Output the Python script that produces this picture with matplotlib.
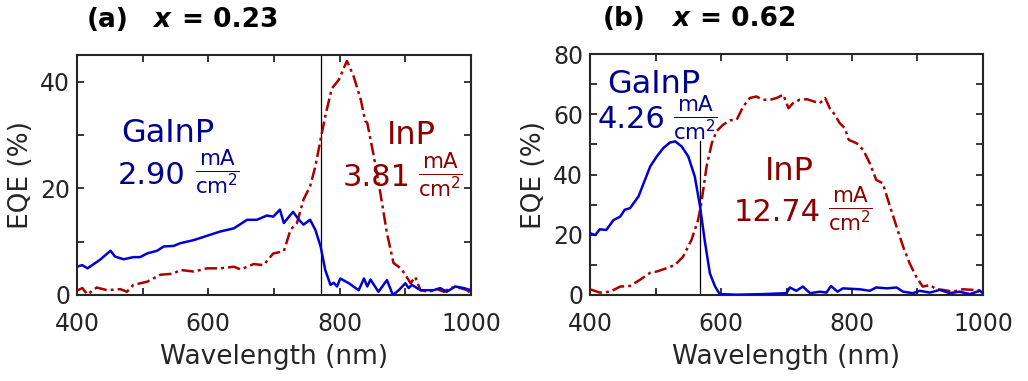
import numpy as np
import matplotlib.pyplot as plt

plt.rcParams['font.family'] = ['DejaVu Sans']
plt.rcParams['mathtext.fontset'] = 'dejavusans'

# ---------------------------------------------------------
# EQE spectra, panel (a): x = 0.23
# ---------------------------------------------------------
wl_gainp_a = [400, 408, 416, 435, 451, 458, 471, 486, 496, 507, 522, 532, 547, 557,
              578, 598, 618, 639, 659, 674, 689, 699, 709, 715, 729, 738, 745, 755,
              763, 771, 778, 786, 791, 796, 801, 814, 829, 837, 842, 847, 859, 872,
              881, 890, 900, 905, 910, 923, 943, 953, 963, 976, 989, 1000]
eqe_gainp_a = [5.3, 5.6, 5.0, 6.6, 8.3, 7.2, 6.7, 7.1, 7.1, 7.8, 8.3, 9.1, 9.2, 9.7,
               10.3, 11.1, 11.9, 12.5, 14.1, 14.1, 14.9, 14.7, 16.0, 13.5, 15.6, 14.1, 13.2, 14.1,
               12.2, 9.1, 4.7, 1.9, 2.3, 1.6, 3.1, 2.2, 0.9, 3.1, 1.6, 2.9, 0.6, 2.8,
               0.0, 0.9, 2.2, 1.3, 1.9, 0.9, 0.9, 1.3, 0.6, 1.6, 1.3, 0.9]

wl_inp_a = [400, 408, 416, 430, 446, 466, 476, 486, 507, 527, 547, 557, 578, 598,
            618, 639, 649, 669, 684, 699, 715, 725, 735, 745, 755, 763, 771, 778,
            788, 799, 811, 821, 832, 839, 842, 852, 862, 872, 882, 893, 900, 908,
            915, 923, 936, 948, 959, 969, 984, 994, 1000]
eqe_inp_a = [0.8, 1.3, 0.1, 1.4, 0.9, 1.1, 0.6, 1.9, 2.5, 3.8, 4.0, 4.7, 4.4, 5.0,
             5.0, 5.3, 4.8, 5.8, 5.6, 7.8, 8.2, 12.2, 13.5, 17.9, 20.4, 24.1, 29.2, 33.5,
             38.7, 40.4, 43.9, 41.1, 36.7, 32.6, 32.3, 26.0, 19.1, 11.6, 6.0, 5.0, 3.8, 2.2,
             3.4, 0.9, 0.6, 1.1, 0.6, 1.4, 1.3, 0.9, 0.3]

# ---------------------------------------------------------
# EQE spectra, panel (b): x = 0.62
# ---------------------------------------------------------
wl_gainp_b = [400, 408, 415, 425, 436, 446, 453, 461, 474, 481, 492, 502, 512, 522,
              530, 540, 550, 560, 568, 575, 583, 591, 598, 624, 664, 700, 705, 715,
              725, 736, 751, 761, 768, 778, 786, 812, 827, 837, 853, 868, 878, 893,
              903, 919, 934, 949, 964, 980, 995, 1000]
eqe_gainp_b = [20.5, 19.9, 21.8, 21.6, 24.9, 26.0, 28.3, 28.8, 32.7, 36.6, 42.7, 46.0, 48.8, 50.6,
               51.0, 49.3, 46.0, 39.3, 29.4, 18.3, 7.2, 2.8, 0.3, 0.1, 0.3, 0.6, 2.5, 1.4,
               2.8, 0.6, 1.1, 0.8, 3.0, 1.1, 2.2, 1.9, 1.4, 2.5, 2.2, 2.5, 1.1, 0.6,
               1.4, 0.8, 1.7, 0.6, 1.1, 0.3, 1.4, 0.6]

wl_inp_b = [400, 415, 431, 446, 461, 476, 492, 502, 517, 530, 542, 555, 565, 570,
            578, 586, 593, 603, 614, 624, 634, 644, 654, 664, 675, 685, 695, 703,
            710, 720, 731, 741, 751, 759, 766, 774, 781, 789, 795, 807, 817, 827,
            837, 847, 858, 868, 878, 888, 898, 908, 919, 929, 939, 954, 969, 985, 1000]
eqe_inp_b = [1.9, 0.8, 1.1, 2.8, 3.0, 5.0, 7.4, 7.8, 8.9, 10.0, 12.7, 18.3, 24.9, 30.5,
             42.7, 50.4, 54.3, 56.5, 58.0, 58.2, 62.6, 65.4, 65.9, 64.8, 64.8, 65.4, 66.5, 62.0,
             63.7, 64.8, 65.0, 64.3, 63.7, 65.4, 62.0, 59.8, 57.1, 55.4, 51.5, 50.4, 48.2, 43.8,
             38.2, 37.1, 29.4, 22.7, 16.1, 10.5, 6.1, 2.8, 3.3, 1.9, 1.7, 1.1, 1.9, 1.7, 1.4]

# integrated current densities (mA/cm2) and subcell cutoff wavelengths
jsc_gainp = ["2.90", "4.26"]
jsc_inp = ["3.81", "12.74"]
cutoff_wl = [772, 568]
cutoff_top = [45, 51]
x_values = ["0.23", "0.62"]
panel_tags = ["(a)", "(b)"]
ylims = [45, 80]

BLUE_LINE = "#0000D2"
BLUE_TEXT = "#000090"
RED_LINE = "#AA0000"
RED_TEXT = "#8B0000"
GREY = "#262626"

fig = plt.figure(figsize=(10.28, 3.81), dpi=100)
ax_a = fig.add_axes([77 / 1028, 86 / 381, 394 / 1028, 240 / 381])
ax_b = fig.add_axes([590 / 1028, 86 / 381, 393 / 1028, 241 / 381])
axes = [ax_a, ax_b]

spectra = [
    (wl_gainp_a, eqe_gainp_a, wl_inp_a, eqe_inp_a),
    (wl_gainp_b, eqe_gainp_b, wl_inp_b, eqe_inp_b),
]

# label positions (data coords): GaInP name, GaInP value, InP name, InP value
label_pos = [
    [(468, 28.6), (462, 20.8), (872, 28.4), (804, 20.4)],
    [(427, 67.0), (412, 55.4), (667, 38.2), (620, 24.4)],
]
frac_pos = [[(579, 22.9), (919, 22.4)], [(527, 58.7), (764, 28.3)]]

for i, ax in enumerate(axes):
    wg, eg, wi, ei = spectra[i]
    ax.plot(wi, ei, color=RED_LINE, lw=1.8, ls=(0, (5, 1.6, 1.2, 1.6)), zorder=3)
    ax.plot(wg, eg, color=BLUE_LINE, lw=1.8, zorder=4)
    ax.plot([cutoff_wl[i], cutoff_wl[i]], [0, cutoff_top[i]], color="black", lw=0.9, zorder=2)

    ax.set_xlim(400, 1000)
    ax.set_ylim(0, ylims[i])
    ax.set_xticks(np.arange(400, 1001, 100))
    ax.set_xticklabels(["400", "", "600", "", "800", "", "1000"])
    yt = np.arange(0, ylims[i] + 1, 10)
    ax.set_yticks(yt)
    ax.set_yticklabels([str(v) if v % 20 == 0 else "" for v in yt])
    ax.tick_params(direction="in", top=True, right=True, length=5, width=1.3,
                   colors=GREY, labelsize=17)
    ax.tick_params(axis="x", pad=12)
    ax.tick_params(axis="y", pad=5)
    for sp in ax.spines.values():
        sp.set_linewidth(1.5)
        sp.set_color(GREY)
    ax.set_xlabel("Wavelength (nm)", fontsize=19, color=GREY, labelpad=6)
    ax.set_ylabel("EQE (%)", fontsize=19, color=GREY, labelpad=4)

    (gx, gy), (gvx, gvy), (ix, iy), (ivx, ivy) = label_pos[i]
    ax.text(gx, gy, "GaInP", color=BLUE_TEXT, fontsize=23, va="baseline")
    ax.text(gvx, gvy, jsc_gainp[i], color=BLUE_TEXT, fontsize=22, va="baseline")
    ax.text(ix, iy, "InP", color=RED_TEXT, fontsize=23, va="baseline")
    ax.text(ivx, ivy, jsc_inp[i], color=RED_TEXT, fontsize=22, va="baseline")
    (fgx, fgy), (fix, fiy) = frac_pos[i]
    frac = r"$\frac{\mathrm{mA}}{\mathrm{cm}^{2}}$"
    ax.text(fgx, fgy, frac, color=BLUE_TEXT, fontsize=22, va="center", ha="left")
    ax.text(fix, fiy, frac, color=RED_TEXT, fontsize=22, va="center", ha="left")

# panel titles
title_x = [(0.025, 0.193, 0.266), (0.033, 0.209, 0.280)]
for i, ax in enumerate(axes):
    tx0, tx1, tx2 = title_x[i]
    ax.text(tx0, 1.115, panel_tags[i], transform=ax.transAxes, fontsize=19,
            fontweight="bold", va="baseline", color="black")
    ax.text(tx1, 1.115, "x", transform=ax.transAxes, fontsize=19,
            fontweight="bold", style="italic", va="baseline", color="black")
    ax.text(tx2, 1.115, "= " + x_values[i], transform=ax.transAxes, fontsize=19,
            fontweight="bold", va="baseline", color="black")

fig.savefig("out.png", dpi=100)
